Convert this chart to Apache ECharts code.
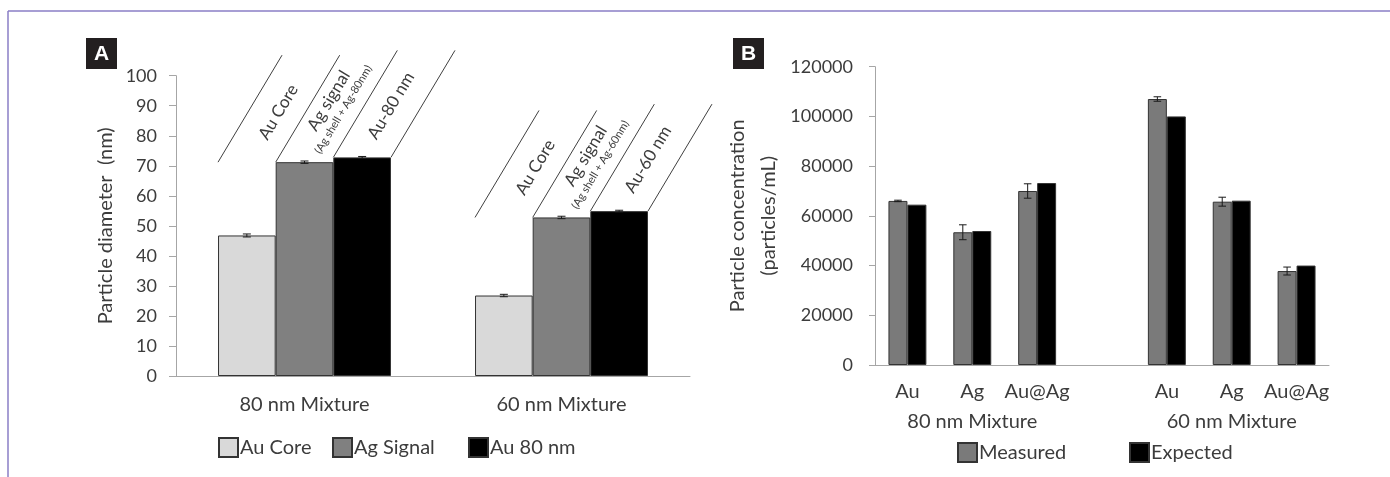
<!DOCTYPE html>
<html><head><meta charset="utf-8">
<script src="https://cdn.jsdelivr.net/npm/echarts@6/dist/echarts.min.js"></script>
<style>html,body{margin:0;padding:0;background:#fff}#c{width:1390px;height:477px}</style>
</head><body><div id="c"></div>
<script>
// ---------- Panel A data ----------
const groupsA = ['80 nm Mixture', '60 nm Mixture'];
const namesA = ['Au Core', 'Ag Signal', 'Au 80 nm'];
const auCore = [46.8, 26.8];
const agSignal = [71.2, 52.8];
const auNm = [72.8, 54.9];
const auCoreErr = [0.5, 0.4];
const agSignalErr = [0.4, 0.4];
const auNmErr = [0.3, 0.3];
const annotA = [
  ['Au Core', 'Ag signal', '(Ag shell + Ag-80nm)', 'Au-80 nm'],
  ['Au Core', 'Ag signal', '(Ag shell + Ag-60nm)', 'Au-60 nm']
];
// ---------- Panel B data ----------
const catsB = ['Au', 'Ag', 'Au@Ag', '', 'Au', 'Ag', 'Au@Ag'];
const groupLabelsB = ['', '80 nm Mixture', '', '', '', '60 nm Mixture', ''];
const namesB = ['Measured', 'Expected'];
const measured = [66000, 53400, 70000, '-', 107000, 65700, 37800];
const measuredErr = [300, 3000, 2900, '-', 900, 1800, 1600];
const expected = [64500, 53900, 73200, '-', 100000, 66100, 40000];

const FONT = 'Lato, "Open Sans", sans-serif';
const TXT = '#3c3c3c';
const AX = '#a6a6a6';
const GAP_A = 0.327, GAP_B = 0.415;

function errSeries(xi, yi, vals, errs, barIdx, nBars, gap) {
  const data = [];
  vals.forEach((v, i) => { if (v !== '-' && errs[i] !== '-') data.push([i, v, errs[i]]); });
  return {
    type: 'custom', xAxisIndex: xi, yAxisIndex: yi, z: 10, silent: true,
    data: data,
    renderItem: function (params, api) {
      const idx = api.value(0), v = api.value(1), e = api.value(2);
      const c = api.coord([idx, v]);
      const band = api.size([1, 0])[0];
      const bw = band * (1 - gap) / nBars;
      const x = c[0] + (barIdx - (nBars - 1) / 2) * bw;
      const t = api.coord([idx, v + e])[1];
      const b = api.coord([idx, v - e])[1];
      const cap = Math.min(4, bw * 0.2);
      const st = { stroke: '#1a1a1a', lineWidth: 1 };
      return { type: 'group', children: [
        { type: 'line', shape: { x1: x, y1: t, x2: x, y2: b }, style: st },
        { type: 'line', shape: { x1: x - cap, y1: t, x2: x + cap, y2: t }, style: st },
        { type: 'line', shape: { x1: x - cap, y1: b, x2: x + cap, y2: b }, style: st }
      ]};
    }
  };
}

const annotSeries = {
  type: 'custom', xAxisIndex: 0, yAxisIndex: 0, z: 20, silent: true, clip: false,
  data: groupsA.map((g, i) => [i, agSignal[i], auNm[i]]),
  renderItem: function (params, api) {
    const idx = api.value(0);
    const c = api.coord([idx, api.value(1)]);
    const yAg = c[1];
    const yAu = api.coord([idx, api.value(2)])[1];
    const band = api.size([1, 0])[0];
    const bw = band * (1 - GAP_A) / 3;
    const xs = [c[0] - 1.5 * bw, c[0] - 0.5 * bw, c[0] + 0.5 * bw, c[0] + 1.5 * bw];
    const ys = [yAg, yAg, yAu, yAu];
    const DX = 64, DY = -107;
    const L = Math.sqrt(DX * DX + DY * DY);
    const u = [DX / L, DY / L], n = [-DY / L, DX / L];
    const rot = Math.atan2(-DY, DX);
    const kids = [];
    for (let k = 0; k < 4; k++) {
      kids.push({ type: 'line', shape: { x1: xs[k], y1: ys[k], x2: xs[k] + DX, y2: ys[k] + DY },
        style: { stroke: '#404040', lineWidth: 1 } });
    }
    const labels = annotA[idx];
    const place = (k, along, perp, text, size) => {
      kids.push({ type: 'text', x: xs[k] + along * u[0] + perp * n[0], y: ys[k] + along * u[1] + perp * n[1],
        rotation: rot,
        style: { text: text, fill: TXT, fontSize: size, fontFamily: FONT, align: 'center', verticalAlign: 'middle' } });
    };
    place(0, 74, 26, labels[0], 17);
    place(1, 80, 14, labels[1], 17);
    place(1, 80, 31, labels[2], 11);
    place(2, 74, 23, labels[3], 17);
    return { type: 'group', children: kids };
  }
};

const barStyle = (color) => ({ color: color, borderColor: '#333', borderWidth: 1 });

const legendBase = { itemWidth: 19, itemHeight: 19, itemGap: 0, padding: 0, icon: 'rect',
  textStyle: { fontSize: 20, fontFamily: FONT, color: TXT, padding: [0, 0, 0, -3] } };

const option = {
  animation: false,
  backgroundColor: '#fff',
  grid: [
    { left: 176, right: 700, top: 75.7, bottom: 101 },
    { left: 875, right: 61, top: 66.7, bottom: 112 }
  ],
  legend: [
    Object.assign({}, legendBase, { data: [namesA[0]], left: 218, top: 437 }),
    Object.assign({}, legendBase, { data: [namesA[1]], left: 332, top: 437 }),
    Object.assign({}, legendBase, { data: [namesA[2]], left: 468, top: 437 }),
    Object.assign({}, legendBase, { data: [namesB[0]], left: 957, top: 442 }),
    Object.assign({}, legendBase, { data: [namesB[1]], left: 1129, top: 442 })
  ],
  xAxis: [
    { type: 'category', gridIndex: 0, data: groupsA,
      axisLine: { lineStyle: { color: AX } }, axisTick: { length: 5, lineStyle: { color: AX } },
      axisLabel: { fontSize: 20, fontFamily: FONT, color: TXT, margin: 19 } },
    { type: 'category', gridIndex: 1, data: catsB,
      axisLine: { lineStyle: { color: AX } }, axisTick: { length: 6, interval: 0, lineStyle: { color: AX } },
      axisLabel: { interval: 0, fontSize: 20, fontFamily: FONT, color: TXT, margin: 17 } },
    { type: 'category', gridIndex: 1, data: groupLabelsB, position: 'bottom', offset: 30,
      axisLine: { show: false }, axisTick: { show: false },
      axisLabel: { interval: 0, fontSize: 20, fontFamily: FONT, color: TXT, margin: 17 } }
  ],
  yAxis: [
    { type: 'value', gridIndex: 0, min: 0, max: 100, interval: 10,
      name: 'Particle diameter  (nm)', nameLocation: 'middle', nameGap: 60,
      nameTextStyle: { fontSize: 20, fontFamily: FONT, color: TXT },
      axisLine: { show: true, lineStyle: { color: AX } }, axisTick: { show: true, length: 7, lineStyle: { color: AX } },
      splitLine: { show: false },
      axisLabel: { fontSize: 18, fontFamily: FONT, color: TXT, margin: 19 } },
    { type: 'value', gridIndex: 1, min: 0, max: 120000, interval: 20000,
      name: 'Particle concentration\n(particles/mL)', nameLocation: 'middle', nameGap: 91,
      nameTextStyle: { fontSize: 20, fontFamily: FONT, color: TXT, lineHeight: 31 },
      axisLine: { show: true, lineStyle: { color: AX } }, axisTick: { show: true, length: 6, lineStyle: { color: AX } },
      splitLine: { show: false },
      axisLabel: { fontSize: 18, fontFamily: FONT, color: TXT, margin: 22, formatter: (v) => String(v) } }
  ],
  series: [
    { name: namesA[0], type: 'bar', xAxisIndex: 0, yAxisIndex: 0, data: auCore, barGap: '0%', barCategoryGap: (GAP_A * 100) + '%', itemStyle: barStyle('#d9d9d9') },
    { name: namesA[1], type: 'bar', xAxisIndex: 0, yAxisIndex: 0, data: agSignal, itemStyle: barStyle('#808080') },
    { name: namesA[2], type: 'bar', xAxisIndex: 0, yAxisIndex: 0, data: auNm, itemStyle: barStyle('#000000') },
    { name: namesB[0], type: 'bar', xAxisIndex: 1, yAxisIndex: 1, data: measured, barGap: '0%', barCategoryGap: (GAP_B * 100) + '%', itemStyle: barStyle('#7a7a7a') },
    { name: namesB[1], type: 'bar', xAxisIndex: 1, yAxisIndex: 1, data: expected, itemStyle: barStyle('#000000') },
    errSeries(0, 0, auCore, auCoreErr, 0, 3, GAP_A),
    errSeries(0, 0, agSignal, agSignalErr, 1, 3, GAP_A),
    errSeries(0, 0, auNm, auNmErr, 2, 3, GAP_A),
    errSeries(1, 1, measured, measuredErr, 0, 2, GAP_B),
    annotSeries
  ],
  graphic: [
    { type: 'line', shape: { x1: 8, y1: 11, x2: 1390, y2: 11 }, style: { stroke: '#8a7ec6', lineWidth: 1.5 } },
    { type: 'line', shape: { x1: 8, y1: 11, x2: 8, y2: 477 }, style: { stroke: '#8a7ec6', lineWidth: 1.5 } },
    { type: 'rect', shape: { x: 86, y: 38, width: 31, height: 31 }, style: { fill: '#231f20' } },
    { type: 'text', x: 101.5, y: 54, style: { text: 'A', fill: '#fff', font: 'bold 21px "Liberation Sans", sans-serif', align: 'center', verticalAlign: 'middle' } },
    { type: 'rect', shape: { x: 733, y: 38, width: 31, height: 31 }, style: { fill: '#231f20' } },
    { type: 'text', x: 748.5, y: 54, style: { text: 'B', fill: '#fff', font: 'bold 21px "Liberation Sans", sans-serif', align: 'center', verticalAlign: 'middle' } }
  ]
};

const chart = echarts.init(document.getElementById('c'), null, { renderer: 'canvas' });
chart.setOption(option);
</script>
</body></html>
